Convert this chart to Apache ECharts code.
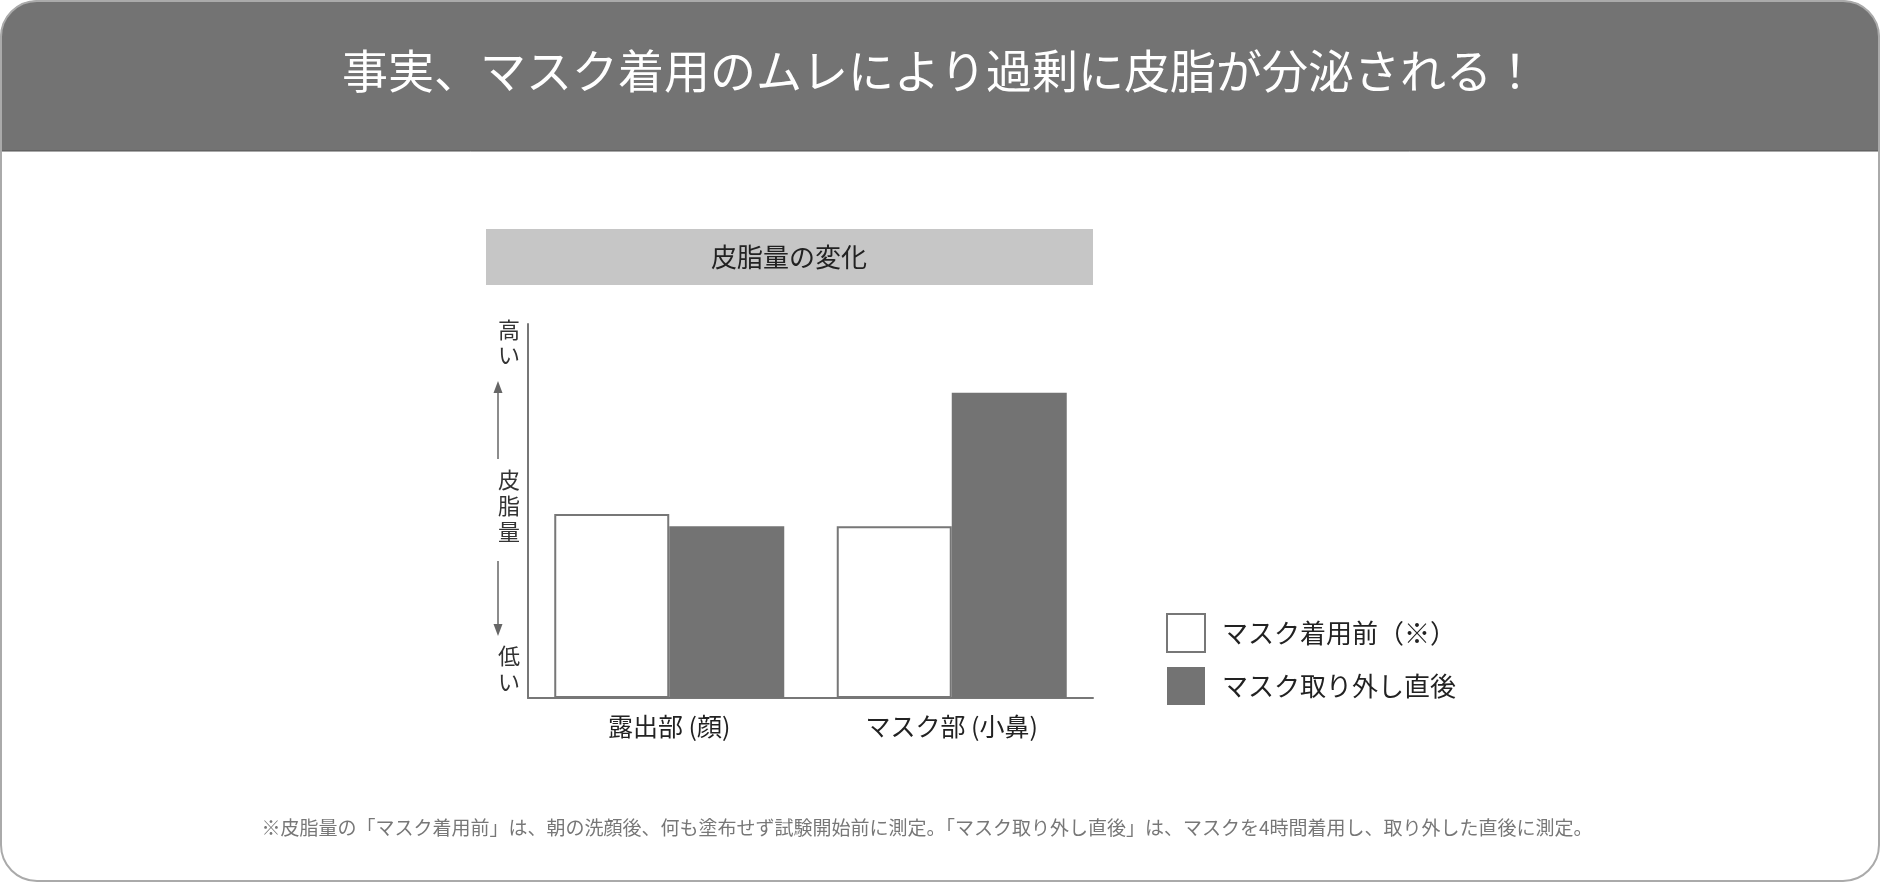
<!DOCTYPE html>
<html><head><meta charset="utf-8">
<script src="https://cdn.jsdelivr.net/npm/echarts@6/dist/echarts.min.js"></script>
<style>html,body{margin:0;padding:0;background:#fff}#c{width:1880px;height:882px}</style>
</head><body><div id="c"></div>
<script>
const categories = ['露出部 (顔)', 'マスク部 (小鼻)'];
const beforeValues = [49.2, 45.9];
const afterValues = [45.9, 81.6];
const seriesNames = ['マスク着用前（※）', 'マスク取り外し直後'];
const F = '"Noto Sans CJK JP", "Noto Sans", sans-serif';
const chart = echarts.init(document.getElementById('c'));
function vtext(chars, x, y0, step) {
  return chars.split('').map((ch, i) => ({type:'text', left:x, top:y0 + i*step,
    style:{text:ch, fill:'#333', font:'22px ' + F, textAlign:'center'}}));
}
chart.setOption({
  animation:false,
  grid:{left:528, right:787, top:324, bottom:184},
  xAxis:{type:'category', data:categories, axisTick:{show:false},
    axisLine:{lineStyle:{color:'#777', width:2}},
    axisLabel:{fontFamily:F, fontSize:25, color:'#222', margin:16}},
  yAxis:{type:'value', min:0, max:100, axisLabel:{show:false}, splitLine:{show:false},
    axisLine:{show:true, lineStyle:{color:'#777', width:2}}},
  legend:{orient:'vertical', left:1161, top:608, itemWidth:38, itemHeight:38, itemGap:14,
    icon:'rect', textStyle:{fontFamily:F, fontSize:26, color:'#222', padding:[0,0,0,12]},
    data:seriesNames},
  series:[
    {name:seriesNames[0], type:'bar', data:beforeValues, barWidth:115, barGap:'0%',
     itemStyle:{color:'#fff', borderColor:'#777', borderWidth:2}},
    {name:seriesNames[1], type:'bar', data:afterValues, barWidth:115,
     itemStyle:{color:'#737373'}}
  ],
  graphic:[
    {type:'rect', shape:{x:1, y:1, width:1878, height:880, r:36}, style:{fill:'none', stroke:'#aaa', lineWidth:2}, z:10},
    {type:'rect', shape:{x:1, y:1, width:1878, height:150, r:[36,36,0,0]}, style:{fill:'#737373', stroke:'#555', lineWidth:1}},
    {type:'text', left:'center', top:48, style:{text:'事実、マスク着用のムレにより過剰に皮脂が分泌される！', fill:'#fff', font:'46px ' + F}},
    {type:'rect', shape:{x:486, y:229, width:607, height:56}, style:{fill:'#c6c6c6'}},
    {type:'text', x:789, y:257, style:{text:'皮脂量の変化', fill:'#222', font:'26px ' + F, textAlign:'center', textVerticalAlign:'middle'}},
    ...vtext('高い', 498, 319, 25),
    ...vtext('皮脂量', 498, 469, 26),
    ...vtext('低い', 498, 645, 26),
    {type:'line', shape:{x1:498, y1:459, x2:498, y2:386}, style:{stroke:'#666', lineWidth:1.5}},
    {type:'polygon', shape:{points:[[498,381],[493.5,393],[502.5,393]]}, style:{fill:'#666'}},
    {type:'line', shape:{x1:498, y1:561, x2:498, y2:631}, style:{stroke:'#666', lineWidth:1.5}},
    {type:'polygon', shape:{points:[[498,636],[493.5,624],[502.5,624]]}, style:{fill:'#666'}},
    {type:'text', x:927, y:828, style:{text:'※皮脂量の「マスク着用前」は、朝の洗顔後、何も塗布せず試験開始前に測定。「マスク取り外し直後」は、マスクを4時間着用し、取り外した直後に測定。', fill:'#777', font:'19px ' + F, textAlign:'center', textVerticalAlign:'middle'}}
  ]
});
</script></body></html>
